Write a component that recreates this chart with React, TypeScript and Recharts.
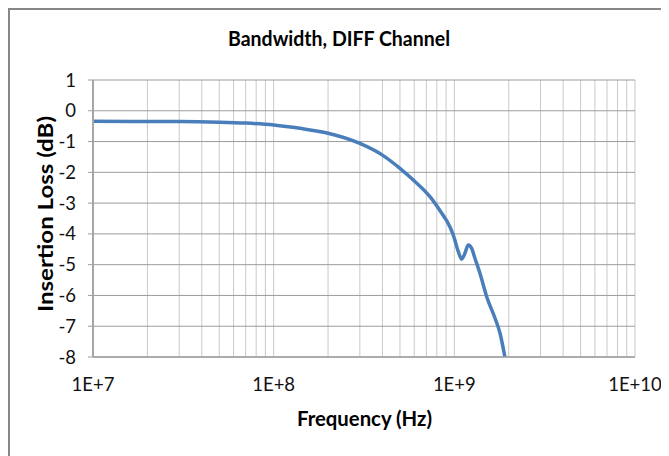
import React from "react";
import { LineChart, Line, XAxis, YAxis, CartesianGrid } from "recharts";

const frequencies = [
  1e7, 2e7, 3e7, 5e7, 7e7, 1e8, 1.4e8, 2e8, 3e8, 4e8, 5e8, 5.93e8, 7.33e8,
  8.68e8, 9.07e8, 9.86e8, 1.051e9, 1.097e9, 1.145e9, 1.194e9, 1.247e9, 1.3e9,
  1.386e9, 1.51e9, 1.68e9, 1.79e9, 1.905e9,
];
const insertionLoss = [
  -0.34, -0.35, -0.35, -0.37, -0.4, -0.46, -0.57, -0.73, -1.06, -1.44, -1.87,
  -2.25, -2.79, -3.4, -3.57, -4.03, -4.57, -4.82, -4.63, -4.36, -4.47, -4.79,
  -5.28, -6.04, -6.74, -7.23, -8.0,
];
const majorTicks = [1e7, 1e8, 1e9, 1e10];
const minorMultipliers = [2, 3, 4, 5, 6, 7, 8, 9];
const yTicks = [-8, -7, -6, -5, -4, -3, -2, -1, 0, 1];

const xTicks: number[] = [];
majorTicks.forEach((m, i) => {
  xTicks.push(m);
  if (i < majorTicks.length - 1) minorMultipliers.forEach((k) => xTicks.push(m * k));
});

const data = frequencies.map((f, i) => ({ f, loss: insertionLoss[i] }));

const FONT = "Lato, 'Open Sans', sans-serif";

const fmtX = (v: number) => {
  const e = Math.log10(v);
  if (Math.abs(e - Math.round(e)) < 1e-6) return `1E+${Math.round(e)}`;
  return "";
};

export default function App() {
  return (
    <div
      style={{
        position: "relative",
        width: 669,
        height: 456,
        marginLeft: -8,
        marginTop: -8,
        overflow: "hidden",
        background: "#fff",
      }}
    >
      <div style={{ position: "absolute", left: 0, top: 0 }}>
        <LineChart
          width={669}
          height={456}
          data={data}
          margin={{ top: 80, right: 34, bottom: 0, left: 0 }}
        >
          <CartesianGrid horizontal={false} vertical={true} stroke="#c9c9c9" strokeWidth={1} />
          <CartesianGrid horizontal={true} vertical={false} stroke="#9c9c9c" strokeWidth={1} />
          <XAxis
            dataKey="f"
            type="number"
            scale="log"
            domain={[1e7, 1e10]}
            ticks={xTicks}
            interval={0}
            tickFormatter={fmtX}
            allowDataOverflow
            height={99}
            tickLine={false}
            tickSize={0}
            tickMargin={21}
            axisLine={{ stroke: "#a0a0a0", strokeWidth: 1.5 }}
            tick={{ fill: "#111", fontSize: 18.5, fontFamily: FONT }}
          />
          <YAxis
            type="number"
            domain={[-8, 1]}
            ticks={yTicks}
            interval={0}
            allowDataOverflow
            width={93}
            tickSize={5}
            tickMargin={12}
            tickLine={{ stroke: "#9c9c9c" }}
            axisLine={{ stroke: "#a6a6a6", strokeWidth: 2 }}
            tick={{ fill: "#111", fontSize: 18.5, fontFamily: FONT }}
          />
          <Line
            type="monotone"
            dataKey="loss"
            stroke="#4a7ebb"
            strokeWidth={3.5}
            dot={false}
            activeDot={false}
            isAnimationActive={false}
          />
        </LineChart>
      </div>
      <svg
        width={669}
        height={456}
        style={{ position: "absolute", left: 0, top: 0, pointerEvents: "none" }}
      >
        <rect x={9} y={9} width={800} height={800} fill="none" stroke="#878787" strokeWidth={2} />
        <text
          x={339}
          y={46}
          textAnchor="middle"
          fontFamily={FONT}
          fontWeight="bold"
          fontSize={20}
          fill="#000"
          textLength={222}
          lengthAdjust="spacingAndGlyphs"
        >
          Bandwidth, DIFF Channel
        </text>
        <text
          x={364.5}
          y={426}
          textAnchor="middle"
          fontFamily={FONT}
          fontWeight="bold"
          fontSize={20.5}
          fill="#000"
          textLength={135}
          lengthAdjust="spacingAndGlyphs"
        >
          Frequency (Hz)
        </text>
        <text
          transform="translate(53,214) rotate(-90)"
          textAnchor="middle"
          fontFamily={FONT}
          fontWeight="bold"
          fontSize={21}
          fill="#000"
          textLength={196}
          lengthAdjust="spacingAndGlyphs"
        >
          Insertion Loss (dB)
        </text>
      </svg>
    </div>
  );
}
